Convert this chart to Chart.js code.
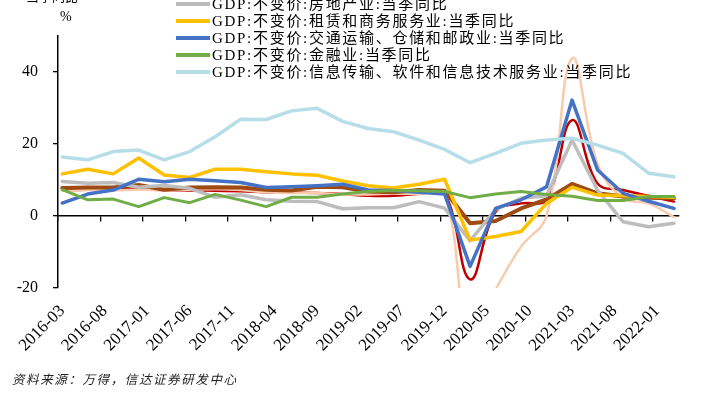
<!DOCTYPE html>
<html><head><meta charset="utf-8">
<script src="https://cdn.jsdelivr.net/npm/chart.js@4/dist/chart.umd.min.js"></script>
<style>
html,body{margin:0;padding:0;background:#fff;}
#wrap{position:relative;width:704px;height:394px;overflow:hidden;background:#fff;}
canvas{position:absolute;left:0;top:0;}
#legend{position:absolute;left:176px;top:0;font-family:"Liberation Serif","Noto Sans CJK SC",serif;font-size:15px;color:#000;}
.row{position:absolute;left:0;height:17px;line-height:17px;white-space:nowrap;display:flex;align-items:center;}
.sw{display:inline-block;width:34px;height:4px;margin-right:2px;}
.txt{letter-spacing:1.7px;}
.pct{position:absolute;left:60px;top:9px;font:14px "Liberation Serif",serif;}
.cut{position:absolute;left:26px;top:-14px;font:13px "Noto Sans CJK SC";}
.src{position:absolute;left:12px;top:369px;font:italic 12.5px "Noto Sans CJK SC";letter-spacing:1.6px;color:#222;}
</style></head>
<body>
<div id="wrap">
<canvas id="c" width="704" height="394"></canvas>
<div class="cut">当季同比</div>
<div class="pct">%</div>
<div id="legend"></div>
<div class="src">资料来源：万得，信达证券研发中心</div>
</div>
<script>
const quarters = ['2016-03','2016-06','2016-09','2016-12','2017-03','2017-06','2017-09','2017-12',
  '2018-03','2018-06','2018-09','2018-12','2019-03','2019-06','2019-09','2019-12',
  '2020-03','2020-06','2020-09','2020-12','2021-03','2021-06','2021-09','2021-12','2022-03'];
const yTicks = [-20, 0, 20, 40];

const wholesale = [7.2,7.3,7.5,7.4,7.2,7.1,7.0,6.9,6.6,6.5,6.4,6.1,5.6,5.6,6.2,6.2,-17.6,1.2,3.5,4.6,26.6,9.0,7.2,5.6,4.0];
const catering  = [7.0,7.2,7.1,7.3,7.2,7.3,7.4,7.2,6.6,6.4,6.4,6.0,6.0,6.2,6.1,6.0,-35.3,-20.5,-8.5,0.0,43.8,14.5,5.0,3.5,-0.3];
const otherSvc  = [7.8,7.9,7.9,8.6,7.3,7.9,8.0,7.9,7.3,7.1,8.1,8.0,6.8,6.6,7.2,7.0,-2.0,-1.4,2.1,4.6,8.9,6.3,5.4,5.1,4.9];
const realty    = [9.6,9.1,9.3,8.0,8.5,7.7,5.2,5.9,4.5,4.1,4.0,2.0,2.3,2.3,4.0,2.2,-6.9,1.8,4.9,5.6,21.1,7.2,-1.6,-3.0,-2.0];
const leasing   = [11.7,13.0,11.7,16.1,11.4,10.7,13.0,13.0,12.3,11.7,11.3,9.7,8.4,7.8,8.8,10.2,-6.7,-5.7,-4.3,3.5,8.0,5.8,5.6,5.4,5.2];
const transport = [3.6,6.1,7.2,10.2,9.5,10.2,9.8,9.3,7.9,8.1,8.4,8.8,7.2,7.1,6.6,6.1,-14.0,2.1,4.5,8.1,32.2,12.8,6.3,4.1,2.1];
const finance   = [7.3,4.5,4.7,2.6,5.1,3.7,6.0,4.4,2.6,5.2,5.2,6.1,6.8,7.1,7.0,6.8,5.1,6.1,6.8,6.0,5.5,4.3,4.3,5.4,5.4];
const infoTech  = [16.4,15.6,17.9,18.3,15.6,17.9,22.0,26.9,26.8,29.2,29.9,26.3,24.3,23.4,21.1,18.5,14.8,17.4,20.2,21.1,21.6,19.7,17.4,11.9,10.9];

const seriesNames = [
  'GDP:不变价:批发和零售业:当季同比',
  'GDP:不变价:住宿和餐饮业:当季同比',
  'GDP:不变价:其他服务业:当季同比',
  'GDP:不变价:房地产业:当季同比',
  'GDP:不变价:租赁和商务服务业:当季同比',
  'GDP:不变价:交通运输、仓储和邮政业:当季同比',
  'GDP:不变价:金融业:当季同比',
  'GDP:不变价:信息传输、软件和信息技术服务业:当季同比'
];
const seriesData = [wholesale, catering, otherSvc, realty, leasing, transport, finance, infoTech];
const colors = ['#C00000','#F8CBAD','#9E4A12','#BDBDBD','#FFC000','#4472C4','#70AD47','#B7DEE8'];
const widths = [2.5,2.5,4,3.5,3.5,3.5,3,3.5];
const tensions = [0.4,0.4,0,0,0,0,0,0];

// monthly category axis 2016-03 .. 2022-03
const months = [];
{ let y = 2016, m = 3;
  while (y < 2022 || (y === 2022 && m <= 3)) {
    months.push(y + '-' + String(m).padStart(2,'0'));
    m++; if (m > 12) { m = 1; y++; }
  }
}

const n = seriesData.length;
const datasets = seriesData.map((arr, k) => ({
  label: seriesNames[k],
  data: arr.map((v, i) => ({x: quarters[i], y: v})),
  borderColor: colors[k],
  backgroundColor: colors[k],
  borderWidth: widths[k],
  tension: tensions[k],
  pointRadius: 0,
  fill: false,
  order: n - 1 - k
}));

// HTML legend (vertical list, top rows clipped by the frame)
const leg = document.getElementById('legend');
const rowCenter0 = 4 - 17 * 3;
seriesNames.forEach((name, k) => {
  const r = document.createElement('div');
  r.className = 'row';
  r.style.top = (rowCenter0 + 17 * k - 8.5) + 'px';
  const sw = document.createElement('span');
  sw.className = 'sw'; sw.style.background = colors[k];
  const t = document.createElement('span');
  t.className = 'txt'; t.textContent = name;
  r.appendChild(sw); r.appendChild(t);
  leg.appendChild(r);
});

new Chart(document.getElementById('c'), {
  type: 'line',
  data: { labels: months, datasets },
  options: {
    responsive: false,
    animation: false,
    layout: { padding: { left: 0, right: 25.75, top: 36, bottom: 0 } },
    plugins: { legend: { display: false }, tooltip: { enabled: false } },
    elements: { line: { borderCapStyle: 'round', borderJoinStyle: 'round' } },
    scales: {
      x: {
        type: 'category', position: { y: 0 }, offset: true,
        grid: { offset: true, drawOnChartArea: false, drawTicks: true, tickLength: 5, lineWidth: 1.3,
                color: ctx => (ctx.index !== undefined && ctx.index % 5 === 0) ? '#000' : 'rgba(0,0,0,0)' },
        border: { color: '#000', width: 1.5 },
        ticks: { display: false }
      },
      x2: {
        type: 'category', position: 'bottom', offset: true,
        grid: { display: false, drawTicks: false },
        border: { display: false },
        ticks: { autoSkip: false, maxRotation: 45, minRotation: 45, padding: 13, color: '#000',
                 font: { family: 'Liberation Serif', size: 17 },
                 callback: (v, i) => (i % 5 === 0) ? months[i] : '' },
        afterFit: s => { s.height = 106; }
      },
      y: {
        min: -20, max: 50,
        afterBuildTicks: s => { s.ticks = yTicks.map(v => ({ value: v })); },
        grid: { drawOnChartArea: false, tickLength: 5, color: '#000', lineWidth: 1.3 },
        border: { color: '#000', width: 1.5 },
        ticks: { padding: 15, color: '#000', font: { family: 'Liberation Serif', size: 16 } },
        afterFit: s => { s.width = 58; }
      }
    }
  }
});
</script>
</body></html>
